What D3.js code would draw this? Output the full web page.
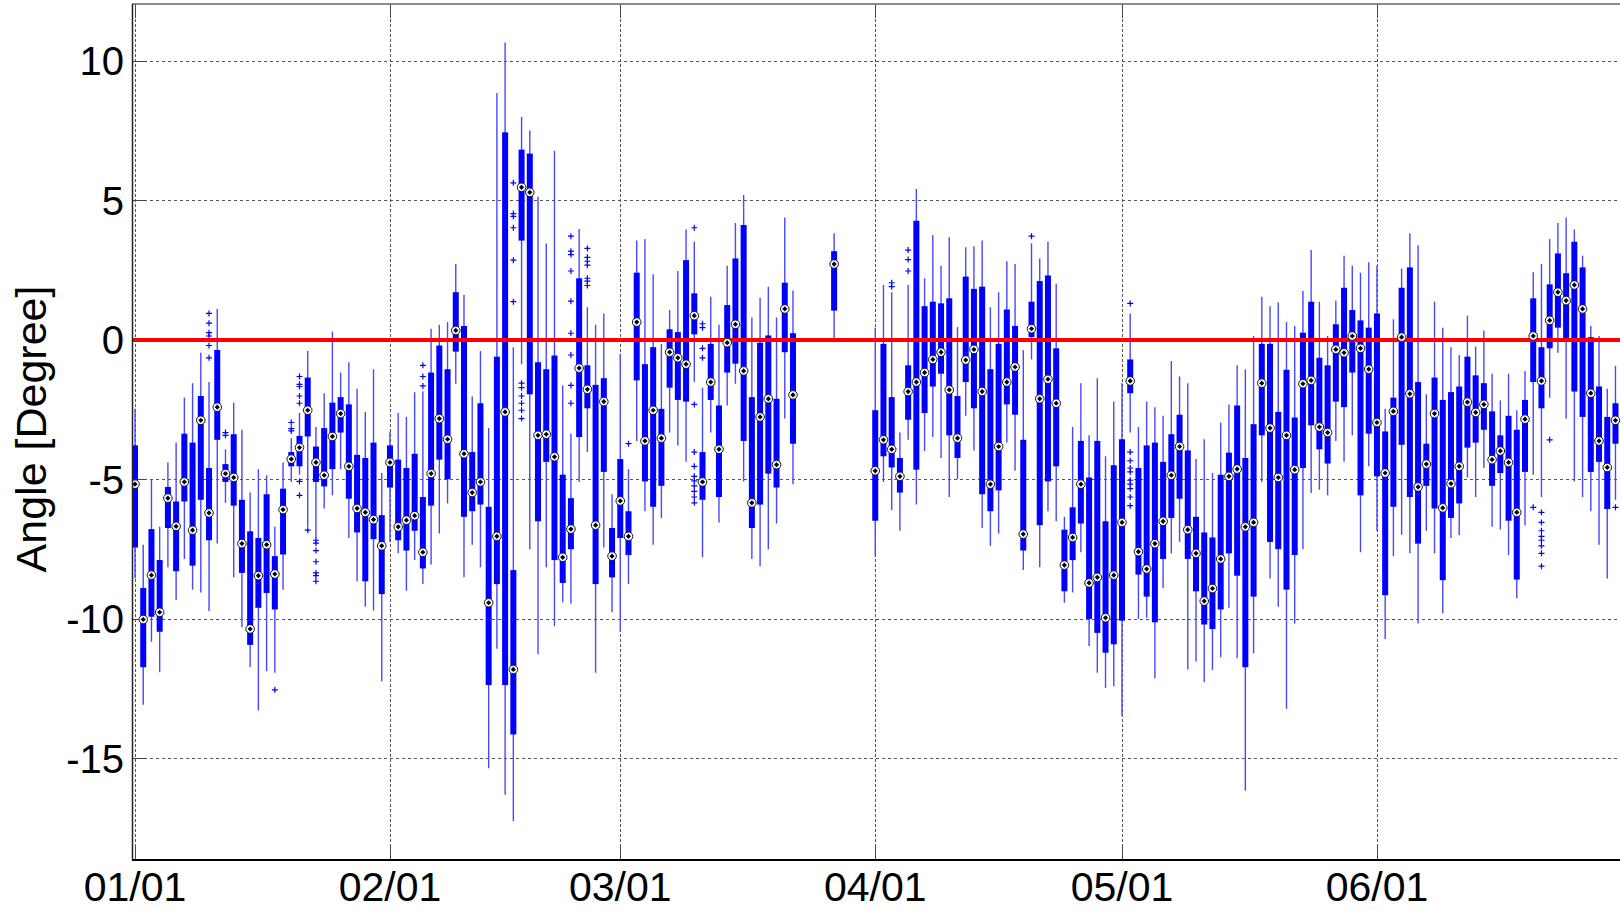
<!DOCTYPE html>
<html>
<head>
<meta charset="utf-8">
<script src="https://cdn.jsdelivr.net/npm/d3@7"></script>
<style>
  html, body { margin: 0; padding: 0; background: #fff; }
  svg { display: block; font-family: "Liberation Sans", Arial, sans-serif; }
</style>
</head>
<body>
<svg id="chart" width="1620" height="910"></svg>
<script>
// ---------------- DATA ----------------
// day index counted from 01/01 (day 0)
const days = [0,1,2,3,4,5,6,7,8,9,10,11,12,13,14,15,16,17,18,19,20,21,22,23,24,25,26,27,28,29,30,
  31,32,33,34,35,36,37,38,39,40,41,42,43,44,45,46,47,48,49,50,51,52,53,54,55,56,57,58,
  59,60,61,62,63,64,65,66,67,68,69,70,71,72,73,74,75,76,77,78,79,80,85,
  90,91,92,93,94,95,96,97,98,99,100,101,102,103,104,105,106,107,108,109,110,111,112,113,114,115,116,117,118,119,
  120,121,122,123,124,125,126,127,128,129,130,131,132,133,134,135,136,137,138,139,140,141,142,143,144,145,146,147,148,149,150,
  151,152,153,154,155,156,157,158,159,160,161,162,163,164,165,166,167,168,169,170,171,172,173,174,175,176,177,178,179,180];

const whiskerLow = [-8.55,-13.08,-10.82,-11.91,-8.15,-9.32,-7.85,-8.95,-9.05,-9.72,-7.30,-5.84,-8.51,-10.30,-11.73,-13.28,-11.87,-11.93,-8.95,-5.09,-4.83,-6.70,-7.10,-6.04,-5.57,-4.63,-7.10,-8.65,-9.56,-9.70,-12.23,
  -7.24,-7.65,-8.99,-7.89,-8.75,-8.05,-6.94,-5.86,-1.57,-8.51,-7.34,-8.15,-15.35,-11.07,-16.30,-17.24,-0.87,-7.50,-11.27,-8.15,-10.26,-9.40,-9.46,-5.09,-4.02,-11.93,-7.44,-9.76,
  -10.46,-8.75,-3.62,-6.14,-7.34,-6.38,-3.32,-3.78,-4.37,-1.50,-7.79,-3.32,-6.54,-2.35,-1.57,-5.07,-7.85,-8.11,-7.50,-6.58,-2.82,-5.17,0.04,
  -7.75,-5.09,-6.10,-6.84,-3.58,-5.90,-3.98,-3.48,-4.23,-5.63,-4.99,-2.72,-3.96,-6.74,-7.38,-6.94,-3.68,-4.69,-8.25,-0.70,-8.15,-6.14,-6.50,-9.42,-9.05,-7.61,-10.97,-11.93,-12.47,-12.41,
  -13.48,-3.32,-10.00,-9.96,-12.13,-8.89,-7.65,-7.24,-11.81,-11.53,-12.27,-11.83,-11.37,-9.60,-11.41,-16.16,-11.23,-5.09,-8.55,-9.56,-13.22,-10.16,-7.50,-5.49,-5.37,-5.57,-3.62,-4.37,-3.42,-7.61,-4.53,
  -6.84,-10.72,-7.75,-6.98,-7.65,-10.16,-6.84,-7.65,-9.80,-7.10,-7.00,-4.93,-5.63,-4.59,-6.70,-6.80,-7.71,-9.26,-6.64,-4.83,-5.63,-2.07,-0.46,-2.82,-5.07,-5.63,-6.14,-7.34,-8.55,-5.73];

const q1 = [-7.44,-11.73,-9.92,-10.46,-6.74,-8.29,-5.79,-8.09,-5.73,-7.18,-3.58,-5.09,-5.94,-8.35,-10.93,-9.60,-9.07,-9.66,-7.69,-4.53,-4.53,-3.46,-5.09,-5.25,-4.63,-3.32,-5.69,-6.90,-8.65,-7.14,-9.11,
  -5.29,-7.18,-7.55,-6.84,-8.19,-5.94,-4.29,-4.99,-0.42,-6.34,-6.14,-5.90,-12.37,-8.75,-12.37,-14.14,3.56,-1.95,-6.50,-4.37,-7.89,-8.71,-7.50,-3.48,-2.45,-8.75,-4.73,-8.51,
  -7.10,-7.71,-1.45,-5.07,-5.98,-5.23,-1.71,-2.15,-2.21,0.20,-5.73,-2.15,-5.63,-1.17,-0.85,-3.62,-6.74,-5.90,-4.79,-5.29,-0.44,-3.72,1.05,
  -6.48,-4.17,-4.57,-5.47,-2.86,-4.65,-2.62,-1.67,-1.21,-3.42,-4.23,-1.51,-2.45,-5.53,-6.14,-5.39,-2.31,-2.68,-7.55,0.10,-6.64,-5.07,-4.53,-9.01,-7.89,-6.58,-10.00,-10.50,-11.21,-10.91,
  -10.06,-1.91,-8.41,-9.20,-10.12,-7.85,-6.38,-5.69,-7.85,-9.01,-10.20,-10.36,-9.66,-7.65,-8.45,-11.73,-9.20,-3.42,-7.24,-7.50,-8.95,-7.71,-4.59,-3.06,-3.92,-4.43,-2.21,-2.41,-1.17,-5.57,-3.36,
  -4.89,-9.15,-5.98,-3.76,-5.63,-7.30,-5.23,-6.04,-8.61,-6.38,-5.86,-3.86,-3.68,-3.22,-5.23,-4.77,-6.48,-8.59,-4.73,-1.51,-2.45,-0.30,0.44,0.04,-1.85,-2.76,-4.73,-4.37,-6.06,-3.72];

const median = [-5.17,-10.02,-8.43,-9.76,-5.67,-6.68,-5.09,-6.82,-2.88,-6.20,-2.41,-4.79,-4.93,-7.30,-10.36,-8.45,-7.34,-8.39,-6.08,-4.27,-3.86,-2.52,-4.39,-4.85,-3.46,-2.64,-4.53,-6.04,-6.18,-6.44,-7.38,
  -4.39,-6.70,-6.46,-6.30,-7.61,-4.79,-2.82,-3.56,0.34,-4.08,-5.47,-5.09,-9.42,-7.04,-2.58,-11.81,5.47,5.29,-3.42,-3.38,-4.19,-7.79,-6.78,-1.01,-1.77,-6.64,-2.21,-7.75,
  -5.77,-7.04,0.64,-3.62,-2.52,-3.52,-0.44,-0.64,-0.87,0.87,-5.09,-1.51,-3.92,-0.10,0.56,-1.11,-5.84,-2.76,-2.11,-4.47,1.11,-1.97,2.72,
  -4.69,-3.58,-3.92,-4.89,-1.85,-1.51,-1.17,-0.70,-0.44,-1.79,-3.52,-0.72,-0.34,-1.85,-5.17,-3.82,-1.51,-0.97,-6.96,0.40,-2.11,-1.41,-2.27,-8.07,-7.08,-5.17,-8.71,-8.51,-9.96,-8.43,
  -6.54,-1.47,-7.59,-8.21,-7.30,-6.50,-4.85,-3.82,-6.80,-7.65,-9.36,-8.91,-7.85,-4.89,-4.63,-6.70,-6.54,-1.55,-3.16,-4.93,-3.42,-4.65,-1.57,-1.45,-3.12,-3.32,-0.34,-0.46,0.14,-0.30,-1.05,
  -2.96,-4.77,-2.56,0.10,-1.93,-5.27,-4.45,-2.64,-6.02,-5.15,-4.53,-2.23,-2.60,-2.31,-4.29,-3.98,-4.39,-6.18,-2.84,0.14,-1.47,0.70,1.71,1.41,1.97,1.11,-1.91,-3.62,-4.57,-2.88];

const q3 = [-3.78,-8.89,-6.78,-7.89,-5.27,-5.79,-3.36,-3.68,-2.01,-4.59,-0.36,-4.45,-3.38,-5.73,-6.86,-7.10,-5.53,-7.75,-5.33,-4.02,-3.44,-1.35,-3.82,-3.16,-2.25,-2.05,-2.31,-4.12,-4.23,-3.68,-6.28,
  -3.78,-4.29,-4.59,-4.08,-5.63,-1.17,-0.20,-1.05,1.71,0.50,-4.02,-2.27,-5.98,-0.60,7.44,-8.25,6.82,6.68,-0.80,-1.05,-0.56,-4.83,-5.67,2.21,-0.91,-1.61,-1.37,-6.74,
  -4.27,-6.14,2.41,-0.87,-0.26,-2.47,0.38,0.28,2.86,1.67,-4.02,-0.14,-2.35,1.25,2.92,4.12,-2.05,-0.10,0.16,-2.11,2.05,0.24,3.18,
  -2.52,-0.14,-2.05,-4.23,-0.91,4.27,1.21,1.37,1.31,1.49,-2.01,2.27,1.83,1.91,-1.05,-0.14,1.09,0.50,-3.58,1.37,2.11,2.31,-0.30,-6.80,-6.00,-3.62,-4.93,-3.62,-6.50,-4.49,
  -3.56,-0.70,-4.59,-3.78,-3.68,-4.37,-3.38,-2.68,-3.96,-6.34,-6.90,-7.08,-4.83,-4.04,-2.35,-4.23,-3.02,-0.14,-0.14,-2.58,-1.07,-2.78,0.26,1.37,-0.64,-0.91,0.56,1.87,1.07,0.70,0.44,
  0.95,-3.28,-2.07,1.87,2.60,-1.51,-3.72,-1.35,-2.15,-1.87,-1.67,-0.60,-1.27,-1.55,-2.56,-3.42,-2.72,-3.22,-2.15,1.49,-0.26,1.99,3.10,2.39,3.52,2.60,0.10,-1.67,-2.76,-2.27];

const whiskerHigh = [-2.47,-7.34,-4.99,-6.70,-4.39,-3.68,-2.07,-1.55,-0.46,-1.51,1.11,-3.92,-2.25,-3.22,-5.47,-4.63,-4.85,-6.70,-4.39,-3.52,-2.62,-0.40,-3.12,-1.91,0.30,-1.17,-0.80,-1.75,-2.58,-1.05,-4.77,
  -3.28,-2.62,-2.76,-1.87,-1.85,0.40,0.54,0.64,2.72,1.61,-2.03,-0.40,-3.16,8.85,10.66,-0.26,7.99,7.51,5.13,3.46,6.78,-1.63,-3.36,3.98,1.17,0.54,0.95,-5.53,
  -0.50,-4.63,3.56,3.62,2.35,-0.14,1.07,2.47,3.96,3.52,-1.71,1.55,0.54,2.66,4.19,5.19,0.80,1.51,1.91,0.80,4.39,1.77,3.82,
  0.44,1.97,1.71,-3.32,1.97,5.41,2.21,3.76,2.66,3.68,0.46,3.32,3.36,3.56,1.17,1.71,2.82,2.72,-0.36,3.46,2.92,3.52,2.01,-6.34,-3.12,-1.55,-3.42,-1.37,-4.17,-2.21,
  -1.55,0.95,-3.12,-2.21,-2.41,-2.72,-0.76,-1.31,-1.55,-4.27,-3.56,-4.77,-2.96,-2.31,-0.91,-1.05,0.14,1.55,1.21,1.35,0.64,0.50,1.75,3.22,1.37,0.14,1.41,3.02,2.66,2.41,2.78,
  2.66,-2.47,0.74,2.56,3.82,3.38,-1.95,1.37,0.44,-0.26,-0.54,0.87,-0.24,0.34,-1.21,-2.17,-1.21,-2.52,-1.11,2.43,2.72,3.62,4.19,4.39,3.96,3.02,0.50,0.14,-1.75,-0.93];

// outliers: day index and value
const outlierDay = [9,9,9,9,9,9, 11,11, 17, 19,19,19, 20,20,20,20,20,20,20, 21, 22,22,22,22,22,22,22, 35,35,35,
  46,46,46,46,46,46, 47,47,47,47,47,47, 53,53,53,53,53,53,53,53,53, 55,55,55,55,55,55,55, 60,
  68,68,68,68,68,68,68,68,68,68, 69,69,69,69, 92,92, 94,94,94, 109,
  121,121,121,121,121,121,121,121,121,121, 170, 171,171,171,171,171,171,171,171, 172, 180];
const outlierValue = [0.95,0.60,0.26,0.14,-0.20,-0.64, -3.32,-3.42, -12.54, -2.96,-3.18,-3.26, -1.31,-1.59,-1.67,-2.01,-2.27,-5.07,-5.57, -6.82, -7.18,-7.28,-7.55,-7.95,-8.35,-8.45,-8.65, -0.91,-1.31,-1.65,
  5.63,4.53,4.43,4.02,2.86,1.37, -1.55,-1.71,-2.01,-2.27,-2.52,-2.82, 3.72,3.18,3.06,2.47,1.39,0.24,-0.54,-1.63,-2.27, 3.28,2.96,2.82,2.68,2.21,2.11,1.95, -3.72,
  4.02,-2.31,-4.02,-4.53,-4.89,-5.05,-5.23,-5.43,-5.63,-5.84, 0.58,0.44,-0.30,-0.64, 2.05,1.91, 3.22,2.88,2.47, 3.72,
  1.31,-4.02,-4.33,-4.59,-4.73,-5.03,-5.17,-5.33,-5.63,-5.94, -6.00, -6.18,-6.54,-6.84,-7.04,-7.18,-7.38,-7.65,-8.11, -3.58, -6.00];

const monthTickDays = [0, 31, 59, 90, 120, 151];
const monthTickLabels = ["01/01", "02/01", "03/01", "04/01", "05/01", "06/01"];
const yTickValues = [10, 5, 0, -5, -10, -15];
const yAxisTitle = "Angle [Degree]";
const referenceValue = 0;

// ---------------- LAYOUT ----------------
(function () {
const W = 1620, H = 910;
const pL = 132, pR = 1620, pT = 4, pB = 860;
const x = d3.scaleLinear().domain([-0.365, 180.55]).range([pL, pR]);
const y = d3.scaleLinear().domain([-18.64, 12.04]).range([pB, pT]);

const svg = d3.select("#chart");
svg.append("rect").attr("width", W).attr("height", H).attr("fill", "#fff");

svg.append("defs").append("clipPath").attr("id", "plotclip")
  .append("rect").attr("x", pL).attr("y", pT).attr("width", pR - pL).attr("height", pB - pT);

// grid
const grid = svg.append("g");
grid.selectAll("line.hg").data(yTickValues).join("line")
  .attr("x1", pL).attr("x2", pR)
  .attr("y1", d => Math.round(y(d)) + 0.5).attr("y2", d => Math.round(y(d)) + 0.5)
  .attr("stroke", "#555").attr("stroke-width", 1).attr("stroke-dasharray", "3,3");
grid.selectAll("line.vg").data(monthTickDays).join("line")
  .attr("x1", d => Math.round(x(d)) + 0.5).attr("x2", d => Math.round(x(d)) + 0.5)
  .attr("y1", pT).attr("y2", pB)
  .attr("stroke", "#555").attr("stroke-width", 1).attr("stroke-dasharray", "3,2");

// ticks (inward)
const ticks = svg.append("g").attr("stroke", "#444").attr("stroke-width", 1);
monthTickDays.forEach(d => {
  const xx = Math.round(x(d)) + 0.5;
  ticks.append("line").attr("x1", xx).attr("x2", xx).attr("y1", pB).attr("y2", pB - 14);
  ticks.append("line").attr("x1", xx).attr("x2", xx).attr("y1", pT).attr("y2", pT + 14);
});
yTickValues.forEach(v => {
  const yy = Math.round(y(v)) + 0.5;
  ticks.append("line").attr("x1", pL).attr("x2", pL + 14).attr("y1", yy).attr("y2", yy);
});

// boxes
const plot = svg.append("g").attr("clip-path", "url(#plotclip)");
const boxes = days.map((d, i) => ({ d, lo: whiskerLow[i], q1: q1[i], m: median[i], q3: q3[i], hi: whiskerHigh[i] }));

plot.selectAll("line.whisker").data(boxes).join("line")
  .attr("x1", b => x(b.d)).attr("x2", b => x(b.d))
  .attr("y1", b => y(b.hi)).attr("y2", b => y(b.lo))
  .attr("stroke", "#4848ff").attr("stroke-width", 1.4);

plot.selectAll("rect.box").data(boxes).join("rect")
  .attr("x", b => x(b.d) - 3).attr("width", 6)
  .attr("y", b => y(b.q3)).attr("height", b => y(b.q1) - y(b.q3))
  .attr("fill", "#0000ff");

const outs = outlierDay.map((d, i) => ({ d, v: outlierValue[i] }));
plot.selectAll("path.out").data(outs).join("path")
  .attr("d", o => {
    const cx = x(o.d), cy = y(o.v), s = 3;
    return `M${cx - s},${cy}H${cx + s}M${cx},${cy - s}V${cy + s}`;
  })
  .attr("stroke", "#0000ff").attr("stroke-width", 1.2).attr("fill", "none");

// reference line
plot.append("line")
  .attr("x1", pL).attr("x2", pR)
  .attr("y1", y(referenceValue)).attr("y2", y(referenceValue))
  .attr("stroke", "#ff0000").attr("stroke-width", 4);

// median markers
plot.selectAll("circle.med").data(boxes).join("circle")
  .attr("cx", b => x(b.d)).attr("cy", b => y(b.m)).attr("r", 4.3)
  .attr("fill", "#fff").attr("stroke", "#10103a").attr("stroke-width", 1);
plot.selectAll("path.meddot").data(boxes).join("path")
  .attr("d", b => {
    const cx = x(b.d), cy = y(b.m), s = 2.6;
    return `M${cx - s},${cy}L${cx},${cy - s}L${cx + s},${cy}L${cx},${cy + s}Z`;
  })
  .attr("fill", "#000");

// frame
svg.append("line").attr("x1", pL).attr("x2", pR).attr("y1", pT).attr("y2", pT)
  .attr("stroke", "#666").attr("stroke-width", 1.5);
svg.append("line").attr("x1", pL + 0.5).attr("x2", pL + 0.5).attr("y1", pT).attr("y2", pB)
  .attr("stroke", "#222").attr("stroke-width", 1.5);
svg.append("line").attr("x1", pL).attr("x2", pR).attr("y1", pB).attr("y2", pB)
  .attr("stroke", "#000").attr("stroke-width", 2);

// tick labels
svg.append("g").selectAll("text").data(monthTickDays).join("text")
  .attr("x", d => x(d)).attr("y", 901)
  .attr("text-anchor", "middle").attr("font-size", 41).attr("fill", "#000")
  .text((d, i) => monthTickLabels[i]);

svg.append("g").selectAll("text").data(yTickValues).join("text")
  .attr("x", 124).attr("y", v => y(v)).attr("dy", "0.36em")
  .attr("text-anchor", "end").attr("font-size", 40).attr("fill", "#000")
  .text(v => String(v));

svg.append("text")
  .attr("transform", "translate(46,429) rotate(-90)")
  .attr("text-anchor", "middle").attr("font-size", 43).attr("fill", "#000")
  .text(yAxisTitle);
})();
</script>
</body>
</html>
